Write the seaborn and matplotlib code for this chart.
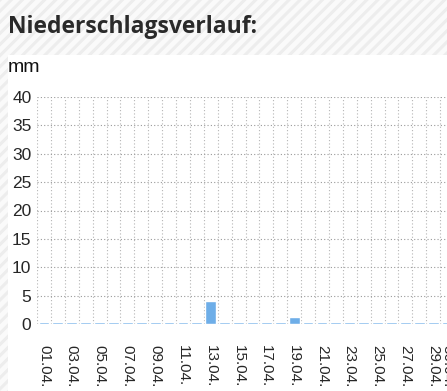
import matplotlib.pyplot as plt
import seaborn as sns
from matplotlib.patches import Rectangle
from matplotlib.ticker import FixedLocator, MultipleLocator
from pandas import DataFrame


# ── Data ──────────────────────────────────────────────────────────────────────
days = [f"{d:02d}.04." for d in range(1, 31)]
rain_mm = [
    0.35, 0.35, 0.35, 0.35, 0.35, 0.35, 0.35, 0.35, 0.35, 0.35,
    0.35, 0.35, 4.0, 0.35, 0.35, 0.35, 0.35, 0.35, 1.25, 0.35,
    0.35, 0.35, 0.35, 0.35, 0.35, 0.35, 0.35, 0.35, 0.35, 0.35,
]
label_days = [d for i, d in enumerate(days) if i % 2 == 0] + [days[-1]]
y_ticks = [0, 5, 10, 15, 20, 25, 30, 35, 40]

W, H = 447, 391

sns.set_theme(style="white")
plt.rcParams["font.family"] = ["Liberation Sans", "DejaVu Sans"]
plt.rcParams["hatch.color"] = "#ededed"
plt.rcParams["hatch.linewidth"] = 2.2

fig = plt.figure(figsize=(W / 100, H / 100), dpi=100)
fig.patch.set_facecolor("#fafafa")

# striped page background + white chart panel
fig.patches.append(Rectangle((0, 0), 1, 1, transform=fig.transFigure,
                             facecolor="#fafafa", edgecolor="#ededed",
                             hatch="///", linewidth=0, zorder=-3))
fig.patches.append(Rectangle((8 / W, 0), 1, 1 - 55 / H, transform=fig.transFigure,
                             facecolor="white", edgecolor="none", zorder=-2))

fig.text(8 / W, 1 - 27 / H, "Niederschlagsverlauf:", fontsize=16.5,
         fontweight="bold", color="#2a2a2a", va="center", ha="left",
         family=["Open Sans", "DejaVu Sans"])
fig.text(8 / W, 1 - 68 / H, "mm", fontsize=14, color="#111111",
         va="center", ha="left")

# ── Axes ──────────────────────────────────────────────────────────────────────
left, right = 37 / W, (37 + 30 * 13.9) / W
bottom, top = 1 - 324 / H, 1 - 97 / H
ax = fig.add_axes([left, bottom, right - left, top - bottom])
ax.set_facecolor("none")

df = DataFrame({"day": days, "mm": rain_mm})
sns.barplot(data=df, x="day", y="mm", color="#6eaee8", saturation=1,
            width=0.78, ax=ax, zorder=3)

ax.set_xlim(-0.5, len(days) - 0.5)
ax.set_ylim(0, 40)
ax.set_yticks(y_ticks)
ax.set_xticks([days.index(d) for d in label_days])
ax.set_xticklabels(label_days, rotation=-90, fontsize=11)
ax.tick_params(axis="x", length=0, pad=15)
ax.tick_params(axis="y", length=0, pad=4, labelsize=12.5)
ax.set_xlabel("")
ax.set_ylabel("")
for s in ax.spines.values():
    s.set_visible(False)

# grid: horizontal every 5, vertical between categories
ax.xaxis.set_minor_locator(FixedLocator([i + 0.5 for i in range(-1, len(days))]))
ax.yaxis.set_major_locator(MultipleLocator(5))
ax.grid(True, axis="y", which="major", linestyle=(0, (1, 2)),
        color="#9a9a9a", linewidth=0.8, zorder=0)
ax.grid(True, axis="x", which="minor", linestyle=(0, (1, 2)),
        color="#b5b5b5", linewidth=0.8, zorder=0)
ax.grid(False, axis="x", which="major")
ax.set_axisbelow(True)

fig.savefig("out.png", dpi=100, facecolor=fig.get_facecolor())
